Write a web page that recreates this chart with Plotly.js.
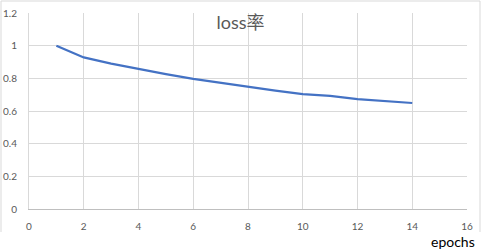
<!DOCTYPE html>
<html>
<head>
<meta charset="utf-8">
<script src="https://cdn.plot.ly/plotly-3.0.1.min.js"></script>
<style>html,body{margin:0;padding:0;background:#fff;}#chart{width:481px;height:251px;}</style>
</head>
<body>
<div id="chart"></div>
<script>
const epochs = [1,2,3,4,5,6,7,8,9,10,11,12,13,14];
const loss = [1.0,0.928,0.89,0.857,0.826,0.797,0.773,0.745,0.725,0.703,0.692,0.673,0.661,0.649];
const xTicks = [0,2,4,6,8,10,12,14,16];
const yTicks = [0,0.2,0.4,0.6,0.8,1,1.2];
const yTickText = ["0","0.2","0.4","0.6","0.8","1","1.2"];
const titleText = "loss率";
const xLabel = "epochs";

const tickFont = {family: "Lato, 'Noto Sans', sans-serif", size: 10, color: "#595959"};
const grid = "#d9d9d9";

const trace = {
  x: epochs, y: loss, type: "scatter", mode: "lines",
  line: {color: "#4472c4", width: 2.25},
  hoverinfo: "skip"
};

// border of chart area in paper coords (plot area l=29, w=438, bottom=209, h=196)
const bx0 = (1 - 29) / 438, bx1 = (480 - 29) / 438;
const by0 = (209 - 232) / 196, by1 = (209 - 1) / 196;

const layout = {
  width: 481, height: 251,
  margin: {l: 29, r: 14, t: 13, b: 42, pad: 0},
  paper_bgcolor: "#fff", plot_bgcolor: "#fff",
  showlegend: false,
  title: {
    text: titleText, x: 0.5, xref: "container", xanchor: "center",
    y: 1 - 22.5 / 251, yref: "container", yanchor: "middle",
    font: {family: "Lato, 'Noto Sans CJK SC', sans-serif", size: 18, color: "#595959"}
  },
  xaxis: {
    range: [0, 16], tickvals: xTicks, ticktext: xTicks.map(String),
    showgrid: true, gridcolor: grid, gridwidth: 1, zeroline: false,
    showline: true, linecolor: "#bfbfbf", linewidth: 1,
    ticks: "outside", ticklen: 8, tickcolor: "rgba(0,0,0,0)",
    tickfont: tickFont, fixedrange: true
  },
  yaxis: {
    range: [0, 1.2], tickvals: yTicks, ticktext: yTickText,
    showgrid: true, gridcolor: grid, gridwidth: 1, zeroline: false,
    showline: true, linecolor: grid, linewidth: 1,
    ticks: "outside", ticklen: 9, tickcolor: "rgba(0,0,0,0)",
    tickfont: tickFont, fixedrange: true
  },
  annotations: [{
    text: xLabel, xref: "paper", yref: "paper",
    x: (477 - 29) / 438, xanchor: "right",
    y: (209 - 231) / 196, yanchor: "top",
    showarrow: false,
    font: {family: "Lato, 'Noto Sans', sans-serif", size: 14, color: "#000"}
  }],
  shapes: [
    {type: "line", xref: "paper", yref: "paper", x0: bx0, x1: bx0, y0: by0, y1: by1, line: {color: grid, width: 1}},
    {type: "line", xref: "paper", yref: "paper", x0: bx0, x1: bx1, y0: by1, y1: by1, line: {color: grid, width: 1}},
    {type: "line", xref: "paper", yref: "paper", x0: bx1, x1: bx1, y0: by0, y1: by1, line: {color: grid, width: 1}}
  ]
};

Plotly.newPlot("chart", [trace], layout, {staticPlot: true, displayModeBar: false});
</script>
</body>
</html>
